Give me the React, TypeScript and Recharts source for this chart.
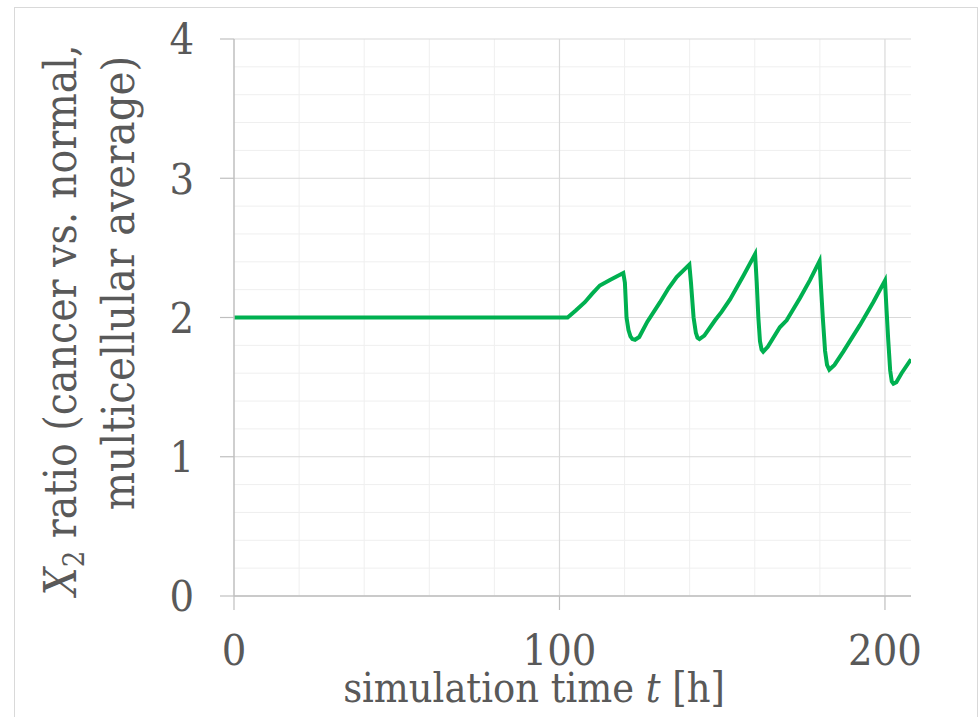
import React from 'react';
import { LineChart, Line, XAxis, YAxis, CartesianGrid } from 'recharts';

// simulation time [h]
const times = [
  0, 102.5, 105, 107.8, 110, 112.4, 115.5, 119.6, 120.1, 120.6, 121.2, 121.8, 122.4, 123.2, 124.5, 127,
  130.9, 133.5, 136, 139.9, 140.4, 141.2, 141.9, 142.4, 143, 144.5, 147.8, 149.8, 152.4, 156.5, 160.1,
  160.6, 161.1, 161.6, 162.1, 162.6, 164, 167.7, 169.8, 173.9, 177, 179.9, 180.4, 180.9, 181.6, 182.2, 182.9,
  184.5, 187.2, 192.3, 196.4, 200, 200.5, 201, 201.6, 202.1, 202.6, 203.5, 205.1, 208,
];

// X2 ratio (cancer vs. normal)
const ratios = [
  2.0, 2.0, 2.05, 2.11, 2.17, 2.23, 2.27, 2.32, 2.25, 2.0, 1.91, 1.865, 1.845, 1.84, 1.86, 1.97,
  2.11, 2.21, 2.29, 2.38, 2.25, 2.0, 1.89, 1.855, 1.845, 1.87, 1.98, 2.04, 2.13, 2.3, 2.455,
  2.25, 2.0, 1.83, 1.77, 1.755, 1.79, 1.93, 1.98, 2.14, 2.27, 2.405, 2.2, 2.0, 1.76, 1.66, 1.625,
  1.66, 1.755, 1.945, 2.11, 2.265, 2.05, 1.84, 1.62, 1.54, 1.525, 1.535, 1.6, 1.7,
];

const xTicks = [0, 100, 200];
const yTicks = [0, 1, 2, 3, 4];
const xMinor = [20, 40, 60, 80, 120, 140, 160, 180];
const yMinor = [0.2, 0.4, 0.6, 0.8, 1.2, 1.4, 1.6, 1.8, 2.2, 2.4, 2.6, 2.8, 3.2, 3.4, 3.6, 3.8];

const data = times.map((t, i) => ({ t, ratio: ratios[i] }));

const font = "'DejaVu Serif', serif";
const textColor = '#595959';
const axisColor = '#bfbfbf';
const serif = { fontFamily: font, fontStretch: 'condensed' as const };

const XTitle = () => (
  <text x={534} y={702} textAnchor="middle" fill={textColor} style={{ ...serif, fontSize: 41 }}>
    simulation time <tspan fontStyle="italic">t</tspan> [h]
  </text>
);

const YTitle = () => (
  <g fill={textColor} style={{ ...serif, fontSize: 45 }}>
    <text transform="translate(76,320) rotate(-90)" textAnchor="middle" fontSize={44}>
      <tspan fontStyle="italic">X</tspan>
      <tspan fontSize={29} dy={8}>2</tspan>
      <tspan dy={-8}> ratio (cancer vs. normal,</tspan>
    </text>
    <text transform="translate(134,283) rotate(-90)" textAnchor="middle">
      multicellular average)
    </text>
  </g>
);

const tickStyle = { fill: textColor, fontSize: 43, style: serif };

const App: React.FC = () => {
  return (
    <div style={{ position: 'absolute', left: 0, top: 0, width: 980, height: 717, background: '#fff', overflow: 'hidden', fontFamily: font }}>
      <div
        style={{
          position: 'absolute',
          left: 14,
          top: 7,
          width: 962,
          height: 720,
          border: '1.5px solid #d9d9d9',
        }}
      />
      <div style={{ position: 'absolute', left: 0, top: 0 }}>
        <LineChart width={980} height={717} data={data} margin={{ top: 39, right: 69, bottom: 61, left: 0 }}>
          {/* minor grid */}
          <CartesianGrid stroke="#efefef" strokeWidth={1} horizontalValues={yMinor} verticalValues={xMinor} />
          {/* major grid */}
          <CartesianGrid stroke="#d9d9d9" strokeWidth={1.2} horizontalValues={yTicks} verticalValues={[100, 200]} />
          <XAxis
            dataKey="t"
            type="number"
            domain={[0, 208]}
            ticks={xTicks}
            height={60}
            tickSize={14}
            tickMargin={24}
            axisLine={{ stroke: axisColor, strokeWidth: 1.5 }}
            tickLine={{ stroke: axisColor, strokeWidth: 1.2 }}
            tick={tickStyle}
            allowDataOverflow
            label={<XTitle />}
          />
          <YAxis
            type="number"
            domain={[0, 4]}
            ticks={yTicks}
            width={234}
            tickSize={14}
            tickMargin={26}
            axisLine={{ stroke: axisColor, strokeWidth: 1.5 }}
            tickLine={{ stroke: axisColor, strokeWidth: 1.2 }}
            tick={tickStyle}
            label={<YTitle />}
          />
          <Line
            type="linear"
            dataKey="ratio"
            stroke="#00b050"
            strokeWidth={4}
            dot={false}
            isAnimationActive={false}
          />
        </LineChart>
      </div>
    </div>
  );
};

export default App;
